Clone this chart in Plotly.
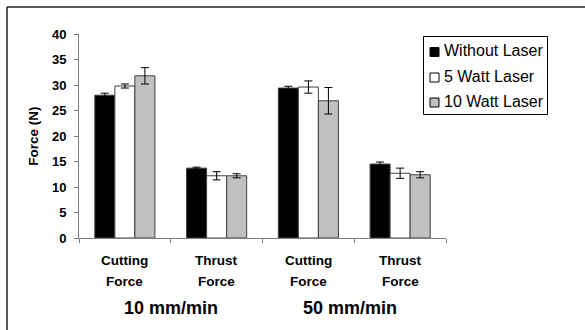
import plotly.graph_objects as go

cat_line1 = ["Cutting", "Thrust", "Cutting", "Thrust"]
cat_line2 = ["Force", "Force", "Force", "Force"]
groups = ["10 mm/min", "50 mm/min"]
series_names = ["Without Laser", "5 Watt Laser", "10 Watt Laser"]
without_laser = [28.0, 13.7, 29.4, 14.5]
without_err = [0.4, 0.2, 0.35, 0.4]
watt5 = [29.8, 12.2, 29.6, 12.7]
watt5_err = [0.4, 0.8, 1.2, 1.0]
watt10 = [31.8, 12.2, 26.9, 12.4]
watt10_err = [1.6, 0.4, 2.6, 0.6]
y_ticks = [0, 5, 10, 15, 20, 25, 30, 35, 40]
series_colors = ["#000000", "#ffffff", "#c0c0c0"]

W, H = 585, 330
ML, MR, MT, MB = 79, 139, 34, 92
PW, PH = W - ML - MR, H - MT - MB


def px(x):
    return (x - ML) / PW


def py(y):
    return (H - MB - y) / PH


xpos = [i + 0.5 for i in range(len(cat_line1))]
FONT = "Arial, 'Liberation Sans', sans-serif"

fig = go.Figure()
for name, vals, errs, color in zip(series_names,
                                   [without_laser, watt5, watt10],
                                   [without_err, watt5_err, watt10_err],
                                   series_colors):
    fig.add_trace(go.Bar(
        x=xpos, y=vals, name=name, showlegend=False,
        marker=dict(color=color, line=dict(color="#404040", width=1)),
        error_y=dict(type="data", array=errs, visible=True, color="#000000",
                     thickness=1, width=4),
    ))

annotations = []
for x, l1, l2 in zip(xpos, cat_line1, cat_line2):
    for text, yy in ((l1, 260), (l2, 281.7)):
        annotations.append(dict(x=x, y=py(yy), xref="x", yref="paper", text=text,
                                showarrow=False, yanchor="middle",
                                font=dict(family=FONT, size=13.5, color="#000", weight="bold")))
for gi, g in enumerate(groups):
    gx = (xpos[2 * gi] + xpos[2 * gi + 1]) / 2
    annotations.append(dict(x=gx, y=py(308), xref="x", yref="paper", text=g,
                            showarrow=False, yanchor="middle", xshift=-4 * gi,
                            font=dict(family=FONT, size=18, color="#000", weight="bold")))

shapes = [
    dict(type="line", xref="paper", yref="paper", x0=px(7), x1=px(7), y0=py(7), y1=py(400),
         line=dict(color="#222", width=1.5)),
    dict(type="line", xref="paper", yref="paper", x0=px(7), x1=px(700), y0=py(7), y1=py(7),
         line=dict(color="#222", width=1.5)),
    # legend box
    dict(type="rect", xref="paper", yref="paper", x0=px(423.5), x1=px(547.5),
         y0=py(36.5), y1=py(114.5), line=dict(color="#000", width=1), fillcolor="white"),
]
legend_rows = [52, 77.5, 102.5]
for name, color, cy in zip(series_names, series_colors, legend_rows):
    shapes.append(dict(type="rect", xref="paper", yref="paper",
                       x0=px(430), x1=px(439), y0=py(cy - 4.5), y1=py(cy + 4.5),
                       line=dict(color="#000", width=1), fillcolor=color))
    annotations.append(dict(x=px(442), y=py(cy - 1.5), xref="paper", yref="paper", text=name,
                            showarrow=False, xanchor="left", yanchor="middle",
                            font=dict(family=FONT, size=16, color="#000")))

fig.update_layout(
    width=W, height=H,
    margin=dict(l=ML, r=MR, t=MT, b=MB),
    paper_bgcolor="white", plot_bgcolor="white",
    barmode="group", bargap=0.345, bargroupgap=0,
    font=dict(family=FONT, color="#000"),
    showlegend=False,
    xaxis=dict(range=[0, 4], tickvals=[0, 1, 2, 3, 4], showticklabels=False,
               ticks="outside", ticklen=4, tickcolor="#808080",
               showline=True, linecolor="#808080", linewidth=1,
               showgrid=False, zeroline=False),
    yaxis=dict(range=[0, 40], tickvals=y_ticks, ticks="outside", ticklen=4,
               tickcolor="#808080", showline=True, linecolor="#808080", linewidth=1,
               showgrid=False, zeroline=False, ticklabelstandoff=5,
               tickfont=dict(family=FONT, size=13, color="#000", weight="bold"),
               title=dict(text="Force (N)", standoff=10,
                          font=dict(family=FONT, size=13.5, color="#000", weight="bold"))),
    annotations=annotations,
    shapes=shapes,
)

fig.write_html("out.html")
